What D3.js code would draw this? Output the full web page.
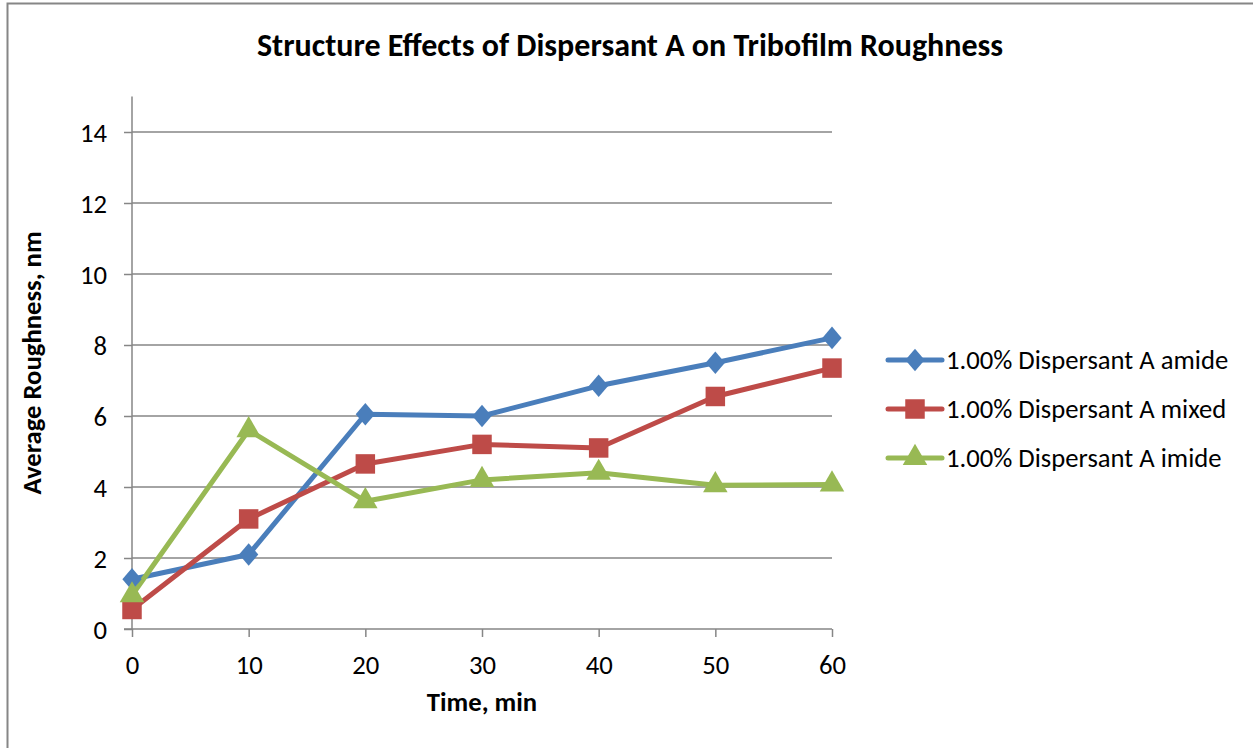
<!DOCTYPE html>
<html><head><meta charset="utf-8">
<script src="https://cdn.jsdelivr.net/npm/d3@7"></script>
<style>body{margin:0;background:#fff}svg{display:block}text{font-family:Carlito,Calibri,Lato,sans-serif;fill:#000}</style>
</head><body><svg id="c" width="1253" height="748"></svg>
<script>
const times = [0, 10, 20, 30, 40, 50, 60];
const amide = [1.4, 2.1, 6.05, 6.0, 6.85, 7.5, 8.2];
const mixed = [0.55, 3.1, 4.65, 5.2, 5.1, 6.55, 7.35];
const imide = [0.95, 5.6, 3.6, 4.2, 4.4, 4.05, 4.07];
const seriesNames = ["1.00% Dispersant A amide", "1.00% Dispersant A mixed", "1.00% Dispersant A imide"];
const yTicks = [0, 2, 4, 6, 8, 10, 12, 14];
const xTicks = [0, 10, 20, 30, 40, 50, 60];

const series = [
  {name: seriesNames[0], values: amide, color: "#4A7EBB", shape: "diamond"},
  {name: seriesNames[1], values: mixed, color: "#BE4B48", shape: "square"},
  {name: seriesNames[2], values: imide, color: "#98B954", shape: "triangle"}
];

const FS = "26.67px";
const svg = d3.select("#c");
svg.append("rect").attr("x", 7.5).attr("y", 3.5).attr("width", 1270).attr("height", 780)
  .attr("fill", "#fff").attr("stroke", "#868686").attr("stroke-width", 2);

const x = d3.scaleLinear().domain([0, 60]).range([132, 832]);
const y = d3.scaleLinear().domain([0, 15]).range([629, 96.5]);

// gridlines
svg.append("g").selectAll("line").data(yTicks.filter(d => d > 0)).join("line")
  .attr("x1", 132).attr("x2", 832).attr("y1", d => y(d)).attr("y2", d => y(d))
  .attr("stroke", "#868686").attr("stroke-width", 1.5);

// y axis
const gy = svg.append("g").attr("transform", "translate(132,0)")
  .call(d3.axisLeft(y).tickValues(yTicks).tickSize(8).tickPadding(17));
gy.select(".domain").attr("stroke", "#868686").attr("stroke-width", 1.5).attr("d", `M0,${y(15)}V${y(0)}`);
gy.selectAll(".tick line").attr("stroke", "#868686").attr("stroke-width", 1.5);
gy.selectAll(".tick text").attr("font-family", null).style("font-size", FS).attr("dy", "0.34em");

// x axis
const gx = svg.append("g").attr("transform", "translate(0,629)")
  .call(d3.axisBottom(x).tickValues(xTicks).tickSize(8));
gx.select(".domain").attr("stroke", "#868686").attr("stroke-width", 1.5).attr("d", `M${x(0)-8},0H${x(60)}`);
gx.selectAll(".tick line").attr("stroke", "#868686").attr("stroke-width", 1.5);
gx.selectAll(".tick text").attr("font-family", null).style("font-size", FS).attr("y", 36).attr("dy", "0.34em");
svg.selectAll(".tick text").attr("fill", "#000");

const symType = {diamond: d3.symbolDiamond, square: d3.symbolSquare, triangle: d3.symbolTriangle};
const symSize = {diamond: 190, square: 380, triangle: 260};
const line = d3.line().x((d, i) => x(times[i])).y(d => y(d));

series.forEach(s => {
  svg.append("path").attr("d", line(s.values)).attr("fill", "none")
    .attr("stroke", s.color).attr("stroke-width", 5).attr("stroke-linejoin", "round");
});
series.forEach(s => {
  const sym = d3.symbol().type(symType[s.shape]).size(symSize[s.shape]);
  svg.append("g").selectAll("path").data(s.values).join("path")
    .attr("d", sym).attr("transform", (d, i) => `translate(${x(times[i])},${y(d)})${s.shape==="diamond"?" scale(1.3,0.88)":""}`)
    .attr("fill", s.color);
});

// title
svg.append("text").attr("x", 630).attr("y", 56).attr("text-anchor", "middle")
  .style("font-size", "32px").style("font-weight", "bold").text("Structure Effects of Dispersant A on Tribofilm Roughness");
svg.append("text").attr("x", 482).attr("y", 711).attr("text-anchor", "middle")
  .style("font-size", FS).style("font-weight", "bold").text("Time, min");
svg.append("text").attr("transform", "translate(41,363) rotate(-90)").attr("text-anchor", "middle")
  .style("font-size", FS).style("font-weight", "bold").text("Average Roughness, nm");

// legend
const lg = svg.append("g");
series.forEach((s, i) => {
  const ly = 360 + i * 49;
  lg.append("line").attr("x1", 888).attr("x2", 942).attr("y1", ly).attr("y2", ly)
    .attr("stroke", s.color).attr("stroke-width", 5).attr("stroke-linecap", "round");
  const sym = d3.symbol().type(symType[s.shape]).size(symSize[s.shape]);
  lg.append("path").attr("d", sym).attr("transform", `translate(915,${ly})${s.shape==="diamond"?" scale(1.3,0.88)":""}`).attr("fill", s.color);
  lg.append("text").attr("x", 946).attr("y", ly + 9).style("font-size", FS).text(s.name);
});
</script></body></html>
